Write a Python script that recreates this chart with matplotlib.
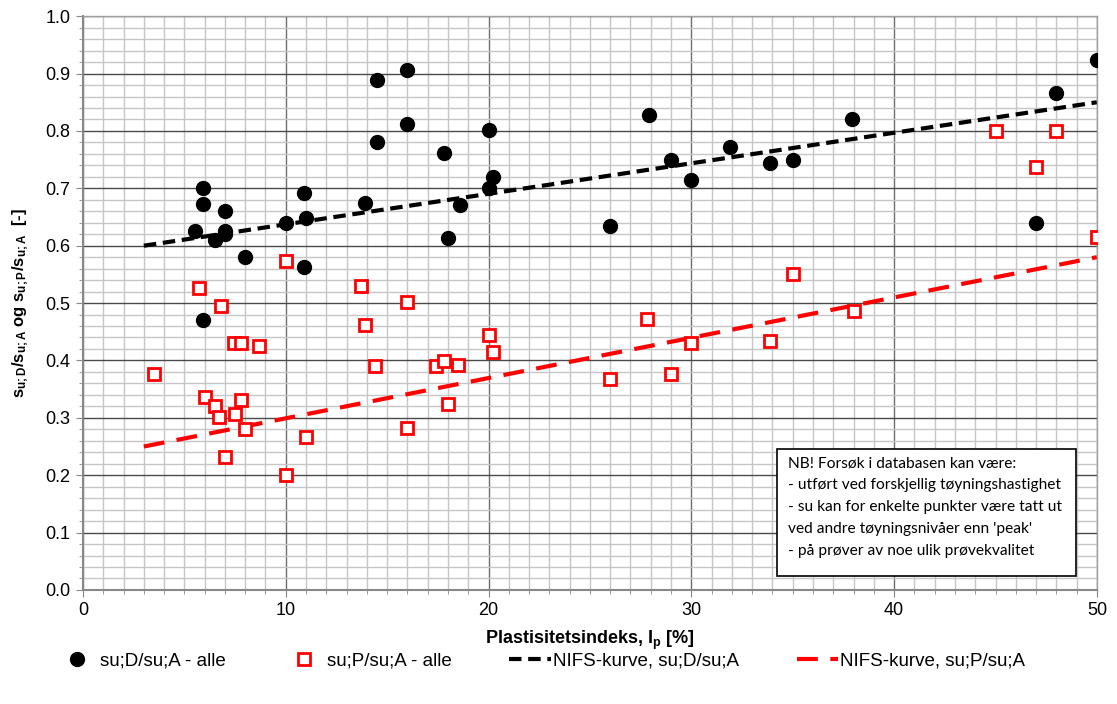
import matplotlib
matplotlib.use("Agg")
import matplotlib.pyplot as plt
from matplotlib.patches import Rectangle
from matplotlib.lines import Line2D
import numpy as np

plt.rcParams["font.family"] = ["Liberation Sans", "DejaVu Sans"]
plt.rcParams["mathtext.fontset"] = "custom"
plt.rcParams["mathtext.rm"] = "Liberation Sans"
plt.rcParams["mathtext.bf"] = "Liberation Sans:bold"
plt.rcParams["mathtext.it"] = "Liberation Sans:italic"

# su;D/su;A - all tests
ip_d = [5.5, 5.9, 5.9, 5.9, 6.5, 7.0, 7.0, 7.0, 8.0, 10.0, 10.9, 11.0, 10.9,
        14.5, 16.0, 14.5, 16.0, 13.9, 17.8, 18.0, 18.6, 20.0, 20.0, 20.2,
        26.0, 27.9, 29.0, 30.0, 31.9, 33.9, 35.0, 37.9, 47.0, 48.0, 50.0]
ratio_d = [0.626, 0.701, 0.672, 0.470, 0.610, 0.660, 0.626, 0.620, 0.581, 0.640,
           0.691, 0.648, 0.563, 0.888, 0.906, 0.780, 0.812, 0.674, 0.761, 0.613,
           0.671, 0.802, 0.701, 0.720, 0.634, 0.828, 0.750, 0.714, 0.772, 0.745,
           0.750, 0.820, 0.640, 0.866, 0.923]

# su;P/su;A - all tests
ip_p = [3.5, 5.7, 6.8, 7.45, 7.8, 8.7, 10.0, 13.7, 13.9, 16.0, 14.4, 17.4,
        17.8, 18.5, 18.0, 16.0, 6.0, 6.5, 6.7, 7.8, 7.5, 8.0, 11.0, 7.0, 10.0,
        20.0, 20.2, 26.0, 27.8, 29.0, 30.0, 33.9, 35.0, 38.0, 45.0, 47.0, 48.0, 50.0]
ratio_p = [0.376, 0.526, 0.495, 0.430, 0.430, 0.426, 0.574, 0.530, 0.461, 0.501,
           0.391, 0.391, 0.399, 0.392, 0.324, 0.283, 0.336, 0.321, 0.301, 0.331,
           0.306, 0.281, 0.266, 0.232, 0.201, 0.444, 0.414, 0.368, 0.472, 0.376,
           0.430, 0.434, 0.551, 0.486, 0.800, 0.737, 0.800, 0.615]

# NIFS design curves
nifs_ip = [3.0, 50.0]
nifs_d = [0.60, 0.85]
nifs_p = [0.25, 0.58]

note_lines = [
    "NB! Forsøk i databasen kan være:",
    "- utført ved forskjellig tøyningshastighet",
    "- su kan for enkelte punkter være tatt ut",
    "ved andre tøyningsnivåer enn 'peak'",
    "- på prøver av noe ulik prøvekvalitet",
]

fig = plt.figure(figsize=(11.17, 7.04), dpi=100)
ax = fig.add_axes([0.0743, 0.162, 0.9077, 0.815])

ax.set_xlim(0, 50)
ax.set_ylim(0, 1.0)
ax.set_xticks(np.arange(0, 51, 10))
ax.set_xticks(np.arange(0, 51, 1), minor=True)
ax.set_yticks(np.arange(0, 1.01, 0.1))
ax.set_yticks(np.arange(0, 1.001, 0.02), minor=True)
ax.set_yticklabels([f"{v:.1f}" for v in np.arange(0, 1.01, 0.1)])

ax.grid(which="minor", color="#c6c6c6", lw=1.0, zorder=0)
ax.grid(which="major", axis="x", color="#6e6e6e", lw=1.0, zorder=0.5)
ax.grid(which="major", axis="y", color="#4a4a4a", lw=1.0, zorder=0.5)
ax.set_axisbelow(True)

for side in ["top", "right"]:
    ax.spines[side].set_color("#a0a0a0")
    ax.spines[side].set_linewidth(1.0)
for side in ["left", "bottom"]:
    ax.spines[side].set_color("#888888")
    ax.spines[side].set_linewidth(1.5)

ax.tick_params(which="major", direction="out", length=5, color="#888888",
               labelsize=13, pad=4)
ax.tick_params(which="minor", direction="out", length=3, color="#888888")

ax.plot(ip_d, ratio_d, ls="none", marker="o", ms=10, color="black", zorder=3)
ax.plot(ip_p, ratio_p, ls="none", marker="s", ms=8, mfc="white", mec="red",
        mew=2, zorder=3)
ax.plot(nifs_ip, nifs_d, color="black", lw=3, dashes=(3, 1.6), zorder=2.5)
ax.plot(nifs_ip, nifs_p, color="red", lw=3, dashes=(5, 3), zorder=2.5)

ax.set_xlabel(r"Plastisitetsindeks, I$_\mathbf{p}$ [%]", fontsize=13,
              fontweight="bold", labelpad=7)
ax.set_ylabel(r"$\mathbf{s_{u;D}/s_{u;A}}$ og $\mathbf{s_{u;P}/s_{u;A}}$  [-]",
              fontsize=12, fontweight="bold", labelpad=10)

# Note box
box = Rectangle((0.684, 0.0244), 0.295, 0.221, transform=ax.transAxes,
                facecolor="white", edgecolor="black", lw=1.2, zorder=4)
ax.add_patch(box)
ax.text(0.695, 0.233, "\n".join(note_lines), transform=ax.transAxes,
        ha="left", va="top", fontsize=11.2, family=["Lato", "DejaVu Sans"],
        linespacing=1.72, zorder=5)

handles = [
    Line2D([], [], ls="none", marker="o", ms=10, color="black"),
    Line2D([], [], ls="none", marker="s", ms=8, mfc="white", mec="red", mew=2),
    Line2D([], [], color="black", lw=3, dashes=(3, 1.6)),
    Line2D([], [], color="red", lw=3, dashes=(5, 3)),
]
labels = ["su;D/su;A - alle", "su;P/su;A - alle",
          "NIFS-kurve, su;D/su;A", "NIFS-kurve, su;P/su;A"]
fig.legend(handles, labels, loc="center", bbox_to_anchor=(0.484, 0.061),
           ncol=4, frameon=False, fontsize=13.5, columnspacing=3.1,
           handlelength=2.2, handletextpad=0.1)

fig.savefig("out.png", dpi=100)
